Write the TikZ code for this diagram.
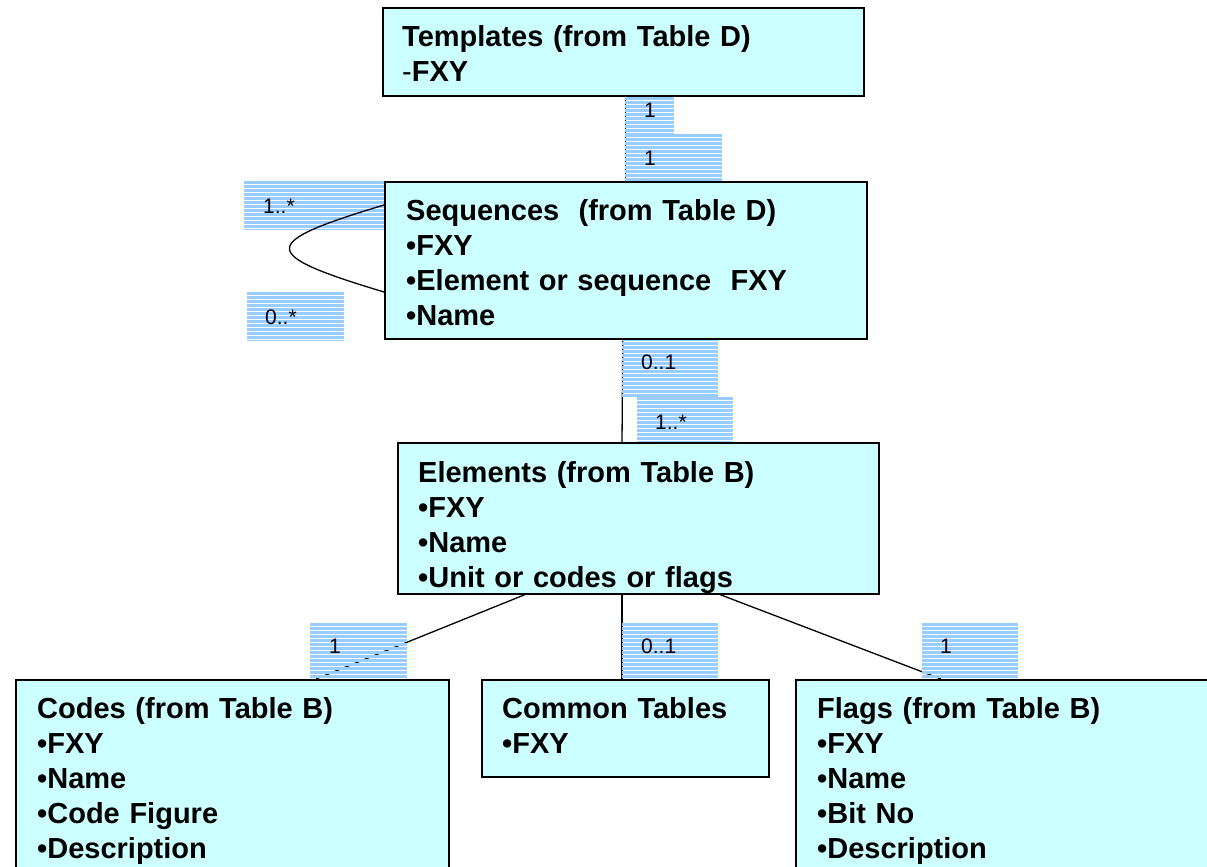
\documentclass[tikz,border=0pt]{standalone}
\usepackage{fontspec}
\setmainfont{Liberation Sans}
\usetikzlibrary{calc}

\definecolor{boxcyan}{HTML}{CCFFFF}
\definecolor{stripeblue}{HTML}{99CCFF}

\pgfdeclarelayer{paper}
\pgfdeclarelayer{wires}
\pgfdeclarelayer{tags}
\pgfsetlayers{paper,wires,tags,main}

% horizontal striped backdrop of a multiplicity tag
\newcommand\tagstripes[4]{%
  \begin{scope}
    \clip (#1,#2) rectangle (#3,#4);
    \foreach \k in {0,...,15}{
      \fill[stripeblue] (#1,{#2+4*\k}) rectangle (#3,{#2+4*\k+3});
    }
  \end{scope}}

\begin{document}
\begin{tikzpicture}[x=1pt,y=-1pt,
  box/.style={draw=black, line width=1.6pt, fill=boxcyan, anchor=north west,
              inner sep=0pt},
  boxtext/.style={anchor=base west, inner sep=0pt, align=left, text width=440pt,
                  font=\fontsize{29}{35}\selectfont\bfseries},
  wire/.style={draw=black, line width=1.3pt},
  mult/.style={anchor=base west, inner sep=0pt, font=\fontsize{21}{25}\selectfont}]

\clip (0,0) rectangle (1207,867);
\useasboundingbox (0,0) rectangle (1207,867);

% class boxes
\node[box, minimum width=481pt, minimum height=88pt]  (tpl)    at (382,7)   {};
\node[box, minimum width=482pt, minimum height=157pt] (seq)    at (384,181) {};
\node[box, minimum width=481pt, minimum height=151pt] (elm)    at (397,442) {};
\node[box, minimum width=433pt, minimum height=250pt] (codes)  at (15,679)  {};
\node[box, minimum width=287pt, minimum height=97pt]  (common) at (481,679) {};
\node[box, minimum width=460pt, minimum height=250pt] (flags)  at (795,679) {};

% class contents
\node[boxtext] (tplt) at (402,47)
  {Templates (from Table D)\\{\mdseries -}FXY};
\node[boxtext] (seqt) at (406,220)
  {Sequences\ \ (from Table D)\\•FXY\\•Element or sequence\ \ FXY\\•Name};
\node[boxtext] (elmt) at (418,482)
  {Elements (from Table B)\\•FXY\\•Name\\•Unit or codes or flags};
\node[boxtext] (codest) at (37,718)
  {Codes (from Table B)\\•FXY\\•Name\\•Code Figure\\•Description};
\node[boxtext] (commont) at (502,718)
  {Common Tables\\•FXY};
\node[boxtext] (flagst) at (817,718)
  {Flags (from Table B)\\•FXY\\•Name\\•Bit No\\•Description};

% self association of sequences, drawn above its tags
\draw[wire] ($(seq.north west)+(0,24)$)
    .. controls +(-126,38) and +(-126,-38) .. ($(seq.north west)+(0,111)$);

% white sheet
\begin{pgfonlayer}{paper}
  \fill[white] (0,0) rectangle (1207,867);
\end{pgfonlayer}

% associations
\begin{pgfonlayer}{wires}
  \draw[wire] (tpl.south -| seq.north) -- (seq.north);
  \draw[wire] ($(seq.south)+(-3,0)$) -- ($(elm.north west)+(225,0)$);
  \draw[wire] ($(elm.south west)+(128,0)$) -- ($(codes.north west)+(301,0)$);
  \draw[wire] ($(elm.south west)+(225,0)$) -- ($(common.north west)+(141,0)$);
  \draw[wire] ($(elm.south west)+(323,0)$) -- ($(flags.north west)+(146,0)$);
\end{pgfonlayer}

% multiplicity tags
\begin{pgfonlayer}{tags}
  \tagstripes{625}{97}{674}{133}
  \tagstripes{625}{134}{722}{181}
  \tagstripes{244}{181}{384}{229}
  \tagstripes{247}{292}{344}{340}
  \tagstripes{622}{338}{718}{397}
  \tagstripes{637}{397}{733}{442}
  \tagstripes{310}{623}{407}{679}
  \tagstripes{622}{623}{718}{679}
  \tagstripes{922}{623}{1018}{679}
  \node[mult] (mtpl)   at (644,117.5) {1};
  \node[mult] (mseq)   at (644,165.5) {1};
  \node[mult] (mself1) at (263,213)   {1..*};
  \node[mult] (mself0) at (265,324)   {0..*};
  \node[mult] (mseqe)  at (641,369)   {0..1};
  \node[mult] (melms)  at (655,429)   {1..*};
  \node[mult] (mcodes) at (329,653)   {1};
  \node[mult] (mcomm)  at (641,653)   {0..1};
  \node[mult] (mflags) at (940,653)   {1};
\end{pgfonlayer}
\end{tikzpicture}
\end{document}
